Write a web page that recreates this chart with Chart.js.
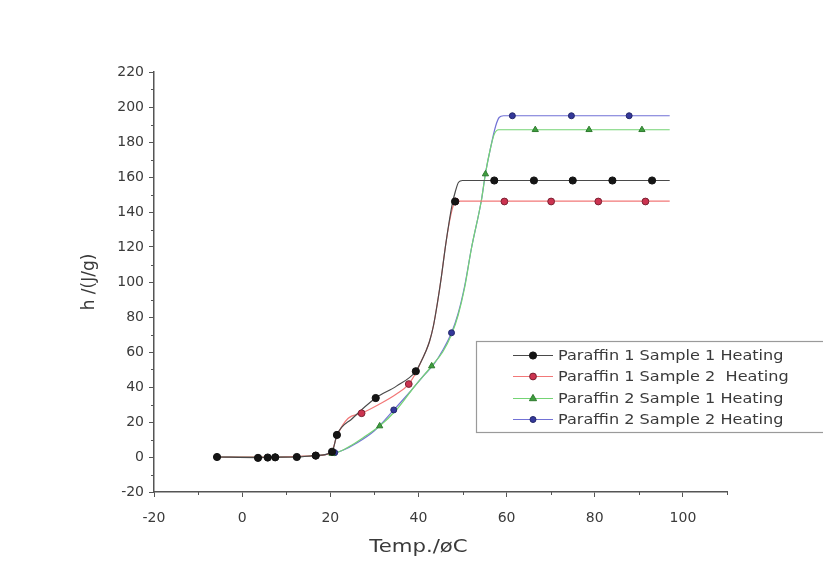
<!DOCTYPE html>
<html><head><meta charset="utf-8">
<script src="https://cdn.jsdelivr.net/npm/chart.js@4/dist/chart.umd.min.js"></script>
<style>html,body{margin:0;padding:0;background:#fff}</style>
</head><body>
<canvas id="c" width="823" height="562"></canvas>
<script>
// ---- data ----
const seriesNames = ["Paraffin 1 Sample 1 Heating", "Paraffin 1 Sample 2  Heating", "Paraffin 2 Sample 1 Heating", "Paraffin 2 Sample 2 Heating"];
const xTickValues = [-20, 0, 20, 40, 60, 80, 100];
const yTickValues = [-20, 0, 20, 40, 60, 80, 100, 120, 140, 160, 180, 200, 220];

// fitted curves (temperature / enthalpy)
const curve1T = [-6, 3.6, 7.5, 12.4, 16.7, 20.4, 21.5, 25, 30.3, 35, 39.4, 40.5, 41.6, 42.5, 43.4, 44.3, 45.2, 46.1, 47, 47.7, 48.4, 49.1, 50, 97];
const curve1H = [0, -0.3, -0.1, 0, 0.8, 3, 12.6, 22, 33.7, 40.5, 49, 54, 60, 66, 75, 88, 103, 120, 135, 145, 152, 157, 158, 158];
const curve2T = [-6, 7.5, 16.7, 20.2, 21.5, 24, 27.1, 31, 35, 37.8, 39.6, 40.5, 41.6, 42.5, 43.4, 44.3, 45.2, 46.1, 47, 47.7, 48.4, 49.2, 97];
const curve2H = [0, -0.1, 0.8, 2.5, 12, 22, 25, 30, 36, 41.7, 49, 54, 60, 66, 75, 88, 103, 120, 134, 142, 146, 146.2, 146.2];
const curve3T = [-6, 7.5, 16.7, 20.4, 22, 25, 28, 31.2, 35, 39, 43, 45.5, 47.5, 49, 50.5, 52, 54.3, 55.2, 56.3, 57.2, 58.2, 97];
const curve3H = [0, -0.1, 0.8, 2, 3, 7, 12, 17.7, 27, 40, 52, 60, 70, 81, 97, 119, 147, 162, 176, 184.5, 187, 187];
const curve4T = [-6, 7.5, 16.7, 20.4, 23, 26, 30, 34.4, 38, 41, 43.5, 45.5, 47.5, 49, 50.5, 52, 54.3, 55.2, 56.3, 57.5, 58.3, 59.3, 97];
const curve4H = [0, -0.1, 0.8, 2, 4, 8, 15, 26.9, 37, 46, 53, 61, 71, 82, 98, 119, 147, 162, 176, 189, 194, 195, 195];

// plotted markers
const mark1T = [-5.7, 3.6, 5.8, 7.5, 12.4, 16.7, 20.4, 21.5, 30.3, 39.4, 48.3, 57.2, 66.2, 75, 84, 93];
const mark1H = [0, -0.5, -0.3, -0.2, 0, 0.8, 3, 12.6, 33.7, 49, 146, 158, 158, 158, 158, 158];
const mark2T = [16.7, 27.1, 37.8, 48.4, 59.5, 70.1, 80.8, 91.5];
const mark2H = [0.8, 25, 41.7, 146, 146, 146, 146, 146];
const mark3T = [7.5, 20.4, 31.2, 43, 55.2, 66.5, 78.7, 90.7];
const mark3H = [-0.1, 2, 17.7, 52, 161.7, 187, 187, 187];
const mark4T = [7.5, 21, 34.4, 47.5, 61.3, 74.7, 87.8];
const mark4H = [-0.1, 2.5, 26.9, 71, 195, 195, 195];

// ---- styles ----
const lineColors = ['#4a4a4a', '#f27878', '#74d474', '#7272d6'];
const markFill = ['#151515', '#cc3350', '#3e9e3e', '#34389a'];
const markEdge = ['#111111', '#7a2233', '#2e7a2e', '#24286a'];
const markShape = ['circle', 'circle', 'triangle', 'circle'];
const markSize = [3.6, 3.4, 3.6, 3.0];

const curves = [[curve1T, curve1H], [curve2T, curve2H], [curve3T, curve3H], [curve4T, curve4H]];
const marks = [[mark1T, mark1H], [mark2T, mark2H], [mark3T, mark3H], [mark4T, mark4H]];
const toPts = (xs, ys) => xs.map((x, i) => ({x: x, y: ys[i]}));

const datasets = [];
marks.forEach((m, i) => datasets.push({
  label: seriesNames[i], data: toPts(m[0], m[1]), showLine: false, order: 0,
  pointStyle: markShape[i], pointRadius: markSize[i], pointBackgroundColor: markFill[i],
  pointBorderColor: markEdge[i], pointBorderWidth: 1
}));
curves.forEach((c, i) => datasets.push({
  label: seriesNames[i] + ' curve', data: toPts(c[0], c[1]), showLine: true, order: 1,
  borderColor: lineColors[i], borderWidth: 1.2, pointRadius: 0, cubicInterpolationMode: 'monotone', fill: false
}));

const AX = '#555';
const TXT = '#3a3a3a';

const decor = {
  id: 'decor',
  afterDraw(chart) {
    const ctx = chart.ctx, xs = chart.scales.x, ys = chart.scales.y;
    ctx.save();
    // minor ticks
    ctx.strokeStyle = AX; ctx.lineWidth = 1;
    ctx.beginPath();
    for (let v = -10; v <= 110; v += 20) {
      const p = Math.round(xs.getPixelForValue(v)) + 0.5;
      ctx.moveTo(p, ys.bottom); ctx.lineTo(p, ys.bottom + 3);
    }
    for (let v = -10; v <= 210; v += 20) {
      const p = Math.round(ys.getPixelForValue(v)) + 0.5;
      ctx.moveTo(xs.left, p); ctx.lineTo(xs.left - 3, p);
    }
    const pe = Math.round(xs.getPixelForValue(110)) + 0.5;
    ctx.moveTo(pe, ys.bottom); ctx.lineTo(pe, ys.bottom + 3);
    ctx.stroke();

    // axis titles
    ctx.fillStyle = TXT;
    ctx.font = '17px "DejaVu Sans"';
    ctx.textAlign = 'center'; ctx.textBaseline = 'middle';
    ctx.save();
    ctx.translate((xs.left + xs.right) / 2 - 22, 548);
    ctx.scale(1.25, 1);
    ctx.fillText('Temp./øC', 0, 0);
    ctx.restore();
    ctx.save();
    ctx.translate(90, 282);
    ctx.rotate(-Math.PI / 2);
    ctx.fillText('h /(J/g)', 0, 0);
    ctx.restore();

    // legend box
    ctx.fillStyle = '#fff';
    ctx.fillRect(476.5, 341.5, 360, 91);
    ctx.strokeStyle = '#9a9a9a'; ctx.lineWidth = 1.2;
    ctx.strokeRect(476.5, 341.5, 360, 91);
    const rows = [355, 376, 398, 419];
    rows.forEach((y, i) => {
      ctx.strokeStyle = lineColors[i]; ctx.lineWidth = 1.2;
      ctx.beginPath(); ctx.moveTo(513, y + 0.5); ctx.lineTo(553, y + 0.5); ctx.stroke();
      ctx.fillStyle = markFill[i]; ctx.strokeStyle = markEdge[i]; ctx.lineWidth = 1;
      ctx.beginPath();
      const r = markSize[i];
      if (markShape[i] === 'triangle') {
        ctx.moveTo(533, y - r); ctx.lineTo(533 + r, y + r * 0.75); ctx.lineTo(533 - r, y + r * 0.75); ctx.closePath();
      } else {
        ctx.arc(533, y + 0.5, r, 0, Math.PI * 2);
      }
      ctx.fill(); ctx.stroke();
      ctx.save();
      ctx.fillStyle = TXT;
      ctx.font = '14px "DejaVu Sans"';
      ctx.textAlign = 'left'; ctx.textBaseline = 'middle';
      ctx.translate(558, y + 1);
      ctx.scale(1.15, 1);
      ctx.fillText(seriesNames[i], 0, 0);
      ctx.restore();
    });
    ctx.restore();
  }
};

new Chart(document.getElementById('c'), {
  type: 'scatter',
  data: { datasets: datasets },
  options: {
    responsive: false, animation: false, devicePixelRatio: 1,
    layout: { padding: { left: 0, top: 72, right: 96, bottom: 0 } },
    plugins: { legend: { display: false }, tooltip: { enabled: false } },
    scales: {
      x: {
        type: 'linear', min: -20, max: 110,
        afterBuildTicks: s => { s.ticks = xTickValues.map(v => ({value: v})); },
        afterFit: s => { s.height = 70; },
        grid: { drawOnChartArea: false, drawTicks: true, tickLength: 5, tickColor: AX, tickWidth: 1 },
        border: { color: AX, width: 1.5 },
        ticks: { color: TXT, font: { family: 'DejaVu Sans', size: 14 }, padding: 13, maxRotation: 0, autoSkip: false }
      },
      y: {
        type: 'linear', min: -20, max: 220,
        afterBuildTicks: s => { s.ticks = yTickValues.map(v => ({value: v})); },
        afterFit: s => { s.width = 154; },
        grid: { drawOnChartArea: false, drawTicks: true, tickLength: 5, tickColor: AX, tickWidth: 1 },
        border: { color: AX, width: 1.5 },
        ticks: { color: TXT, font: { family: 'DejaVu Sans', size: 14 }, padding: 5, autoSkip: false }
      }
    }
  },
  plugins: [decor]
});
</script>
</body></html>
